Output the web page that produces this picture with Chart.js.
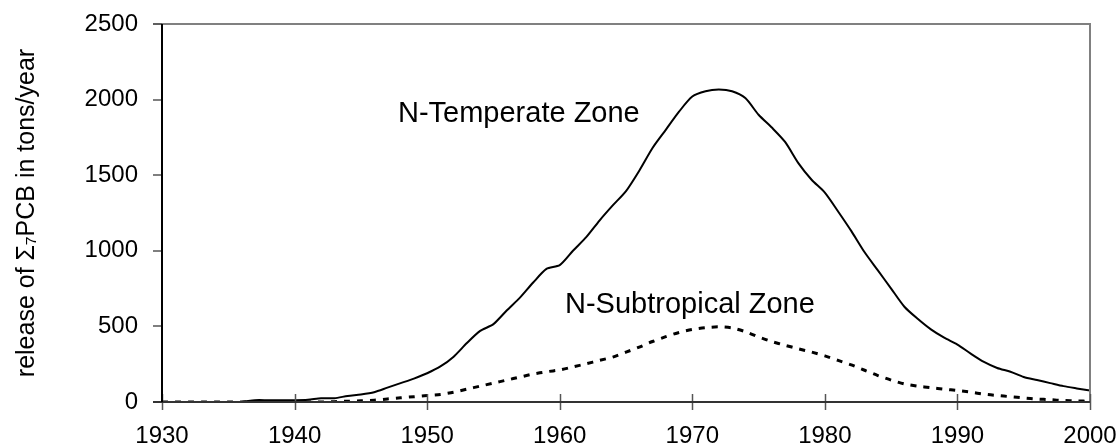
<!DOCTYPE html>
<html>
<head>
<meta charset="utf-8">
<script src="https://cdn.jsdelivr.net/npm/chart.js@4/dist/chart.umd.min.js"></script>
<style>
  html, body { margin: 0; padding: 0; background: #fff; }
  #wrap { width: 1120px; height: 448px; }
</style>
</head>
<body>
<div id="wrap"><canvas id="pcbChart" width="1120" height="448"></canvas></div>
<script>
// Release of sum-7 PCB, tons/year
const years = [
  1930, 1931, 1932, 1933, 1934, 1935, 1936, 1937, 1938, 1939,
  1940, 1941, 1942, 1943, 1944, 1945, 1946, 1947, 1948, 1949,
  1950, 1951, 1952, 1953, 1954, 1955, 1956, 1957, 1958, 1959,
  1960, 1961, 1962, 1963, 1964, 1965, 1966, 1967, 1968, 1969,
  1970, 1971, 1972, 1973, 1974, 1975, 1976, 1977, 1978, 1979,
  1980, 1981, 1982, 1983, 1984, 1985, 1986, 1987, 1988, 1989,
  1990, 1991, 1992, 1993, 1994, 1995, 1996, 1997, 1998, 1999,
  2000
];
const temperate = [
  0, 0, 0, 0, 0, 0, 0, 12, 12, 12,
  12, 15, 25, 25, 40, 50, 65, 95, 125, 155,
  190, 235, 300, 390, 470, 515, 605, 690, 790, 880,
  905, 1000, 1090, 1200, 1300, 1395, 1530, 1680, 1800, 1920,
  2020, 2055, 2066, 2055, 2010, 1900, 1815, 1720, 1580, 1470,
  1385, 1260, 1130, 990, 870, 750, 630, 550, 480, 425,
  380, 320, 265, 225, 200, 165, 145, 125, 105, 90,
  76
];
const subtropical = [
  0, 0, 0, 0, 0, 0, 0, 0, 0, 0,
  0, 0, 0, 2, 5, 8, 12, 20, 28, 35,
  43, 50, 65, 85, 105, 125, 145, 165, 185, 200,
  212, 232, 253, 275, 297, 330, 363, 400, 432, 460,
  480, 492, 497, 490, 465, 430, 400, 375, 352, 330,
  305, 275, 245, 210, 175, 145, 120, 105, 95, 85,
  76, 65, 52, 43, 35, 27, 20, 15, 10, 7,
  5
];
const xTicks = [1930, 1940, 1950, 1960, 1970, 1980, 1990, 2000];
const yTicks = [0, 500, 1000, 1500, 2000, 2500];

const FONT = '"Liberation Sans", Arial, sans-serif';

function toPoints(values) {
    return years.map(function(y, i) { return { x: y, y: values[i] }; });
}

// Frame, tick marks and the two zone labels
const framePlugin = {
    id: 'frame',
    afterDatasetsDraw: function(chart) {
        const ctx = chart.ctx;
        const area = chart.chartArea;
        const xs = chart.scales.x;
        const ys = chart.scales.y;
        ctx.save();

        // top and right box lines
        ctx.strokeStyle = '#808080';
        ctx.lineWidth = 2;
        ctx.beginPath();
        ctx.moveTo(area.left - 9, area.top);
        ctx.lineTo(area.right, area.top);
        ctx.lineTo(area.right, area.bottom);
        ctx.stroke();

        // y tick marks (outside)
        ctx.strokeStyle = '#555';
        ctx.lineWidth = 1.5;
        yTicks.forEach(function(v) {
            const py = Math.round(ys.getPixelForValue(v));
            ctx.beginPath();
            ctx.moveTo(area.left - 9, py);
            ctx.lineTo(area.left, py);
            ctx.stroke();
        });

        // x tick marks (cross the axis)
        xTicks.forEach(function(v) {
            const px = Math.round(xs.getPixelForValue(v)) + 0.5;
            ctx.beginPath();
            ctx.moveTo(px, area.bottom - 8);
            ctx.lineTo(px, area.bottom + 8);
            ctx.stroke();
        });

        // axis lines
        ctx.strokeStyle = '#333';
        ctx.lineWidth = 2;
        ctx.beginPath();
        ctx.moveTo(area.left - 9, area.bottom);
        ctx.lineTo(area.right, area.bottom);
        ctx.stroke();
        ctx.strokeStyle = '#000';
        ctx.beginPath();
        ctx.moveTo(area.left, area.top);
        ctx.lineTo(area.left, area.bottom);
        ctx.stroke();

        // zone labels
        ctx.fillStyle = '#000';
        ctx.font = '29px ' + FONT;
        ctx.textBaseline = 'alphabetic';
        ctx.textAlign = 'left';
        chart.options.plugins.frame.labels.forEach(function(l) {
            ctx.fillText(l.text, xs.getPixelForValue(l.x), ys.getPixelForValue(l.y));
        });
        ctx.restore();
    }
};

document.addEventListener('DOMContentLoaded', function() {
    const canvas = document.getElementById('pcbChart');
    new Chart(canvas, {
        type: 'line',
        data: {
            datasets: [
                {
                    label: 'N-Temperate Zone',
                    data: toPoints(temperate),
                    borderColor: '#000',
                    borderWidth: 2,
                    pointRadius: 0,
                    tension: 0.25,
                    fill: false
                },
                {
                    label: 'N-Subtropical Zone',
                    data: toPoints(subtropical),
                    borderColor: '#000',
                    borderWidth: 3,
                    borderDash: [6, 7],
                    pointRadius: 0,
                    tension: 0.25,
                    fill: false
                }
            ]
        },
        options: {
            responsive: false,
            animation: false,
            layout: { padding: { top: 24, right: 30, bottom: 0, left: 0 } },
            plugins: {
                legend: { display: false },
                tooltip: { enabled: false },
                frame: {
                    labels: [
                        { text: 'N-Temperate Zone', x: 1947.8, y: 1855 },
                        { text: 'N-Subtropical Zone', x: 1960.4, y: 590 }
                    ]
                }
            },
            scales: {
                x: {
                    type: 'linear',
                    min: 1930,
                    max: 2000,
                    grid: { display: false },
                    border: { display: false },
                    afterBuildTicks: function(scale) {
                        scale.ticks = xTicks.map(function(v) { return { value: v }; });
                    },
                    afterFit: function(scale) {
                        scale.height = 46;
                        scale.paddingLeft = 0;
                        scale.paddingRight = 0;
                    },
                    ticks: {
                        color: '#000',
                        font: { family: FONT, size: 24 },
                        padding: 12,
                        maxRotation: 0,
                        callback: function(v) { return String(v); }
                    }
                },
                y: {
                    min: 0,
                    max: 2500,
                    grid: { display: false },
                    border: { display: false },
                    afterBuildTicks: function(scale) {
                        scale.ticks = yTicks.map(function(v) { return { value: v }; });
                    },
                    afterFit: function(scale) {
                        scale.width = 162;
                        scale.paddingTop = 0;
                        scale.paddingBottom = 0;
                    },
                    ticks: {
                        color: '#000',
                        font: { family: FONT, size: 24 },
                        padding: 16,
                        callback: function(v) { return String(v); }
                    },
                    title: {
                        display: true,
                        text: 'release of \u03A3\u2087PCB in tons/year',
                        color: '#000',
                        font: { family: FONT, size: 25 },
                        padding: { top: 12, bottom: 0 }
                    }
                }
            }
        },
        plugins: [framePlugin]
    });
});
</script>
</body>
</html>
